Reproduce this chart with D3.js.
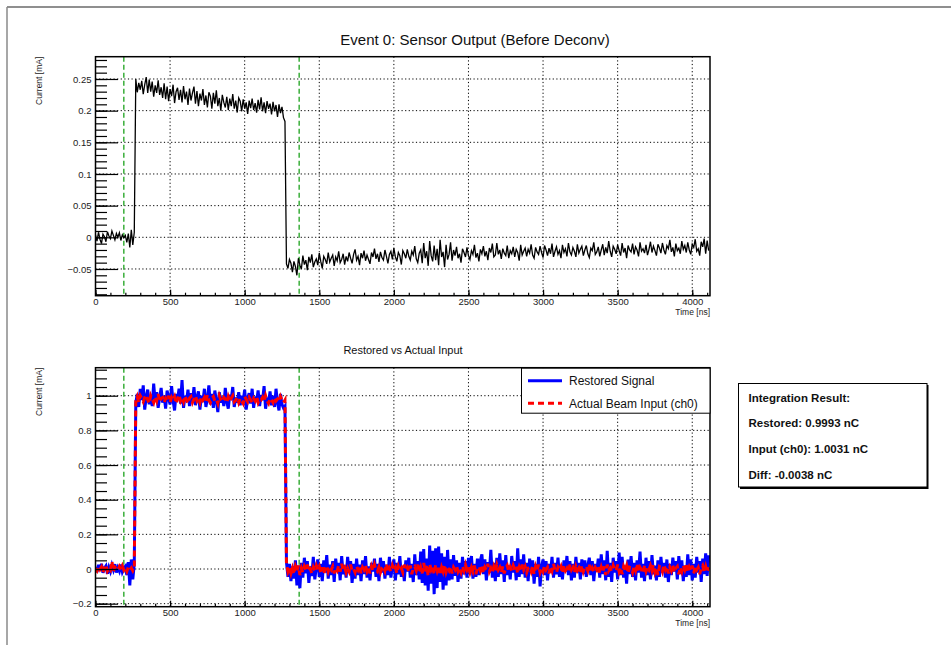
<!DOCTYPE html>
<html>
<head>
<meta charset="utf-8">
<script src="https://cdn.jsdelivr.net/npm/d3@7"></script>
<style>
  html, body { margin: 0; padding: 0; background: #fff; }
  svg { display: block; font-family: "Liberation Sans", Arial, Helvetica, sans-serif; }
</style>
</head>
<body>
<svg id="canvas" width="951" height="645"></svg>
<script>
// ---- Waveform data: one sample every 10 ns, currents stored in µA ----
const SAMPLE_NS = 10;

// Raw sensor output (before deconvolution)
const sensorOutputUA = [
  4, -6, 8, -3, -10, 5, 1, -7, 9, 2,
  -2, 10, 3, -4, 6, 0, 7, -5, 4, -1,
  3, -8, 6, -16, 12, -12,
  8,
  250, 229, 244, 233, 247, 226, 241, 253, 228, 249,
  230, 246, 222, 240, 228, 248, 225, 237, 220, 243,
  218, 238, 215, 234, 223, 241, 212, 230, 236, 217,
  233, 213, 239, 218, 230, 209, 235, 216, 228, 238,
  211, 231, 207, 227, 216, 234, 209, 224, 205, 229,
  223, 203, 228, 211, 232, 207, 220, 200, 225, 213,
  205, 222, 201, 219, 207, 226, 203, 216, 197, 220,
  215, 199, 218, 203, 213, 195, 216, 204, 219, 201,
  212, 197, 217, 202, 221, 199, 213, 196, 215, 203,
  211, 194, 214, 199, 209, 190, 210, 196, 206, 189,
  183,
  -42,
  -49, -35, -41, -55, -38, -46, -60, -33, -44, -50,
  -29, -43, -36, -52, -31, -40, -27, -47, -39, -34,
  -44, -25, -38, -49, -30, -35, -42, -24, -39, -33,
  -28, -45, -31, -37, -22, -40, -35, -26, -43, -30,
  -38, -24, -33, -41, -27, -19, -36, -30, -44, -25,
  -33, -21, -37, -28, -35, -42, -24, -31, -18, -34,
  -26, -39, -23, -32, -36, -20, -30, -41, -27, -22,
  -35, -17, -31, -38, -24, -29, -43, -21, -26, -33,
  -19, -30, -36, -22, -28, -14, -34, -40, -25, -20,
  -41, -9, -33, -22, -45, -6, -29, -38, -13, -36,
  -18, -44, -4, -31, -23, -47, -12, -35, -27, -8,
  -37, -20, -29, -15, -33, -26, -40, -18, -24, -31,
  -16, -29, -35, -21, -27, -12, -32, -25, -38, -19,
  -26, -14, -30, -22, -36, -17, -24, -10, -31, -28,
  -9, -27, -20, -34, -18, -25, -29, -13, -33, -21,
  -26, -15, -31, -19, -24, -37, -12, -28, -22, -17,
  -30, -19, -25, -11, -28, -33, -16, -23, -27, -14,
  -24, -32, -13, -20, -29, -17, -26, -10, -31, -22,
  -15, -27, -21, -33, -12, -24, -18, -30, -9, -23,
  -28, -16, -22, -31, -11, -25, -19, -14, -29, -20,
  -13, -26, -32, -17, -21, -8, -27, -23, -15, -30,
  -20, -11, -28, -16, -25, -6, -22, -31, -14, -19,
  -26, -12, -21, -29, -9, -24, -17, -33, -13, -20,
  -23, -10, -27, -15, -20, -30, -8, -22, -18, -25,
  -12, -28, -19, -7, -24, -14, -21, -29, -11, -17,
  -25, -9, -20, -27, -13, -18, -4, -23, -16, -30,
  -10, -21, -17, -26, -6, -19, -13, -24, -8, -20,
  -27, -11, -16, -3, -22, -18, -29, -7, -15, -2,
  -26, -5, -21
];

// Deconvolved (restored) signal
const restoredUA = [
  12, -18, 25, -8, 30, -22, 5, 18, -27, 10,
  -14, 22, -5, 28, -20, 8, -12, 26, -17, 4,
  15, -35, 40, -95, 55, -60,
  30,
  960, 1010, 935, 1040, 975, 1060, 920, 995, 1035, 950,
  1005, 940, 1070, 965, 1020, 930, 990, 1045, 960, 1000,
  925, 1030, 985, 950, 1055, 970, 915, 1010, 980, 1040,
  955, 1090, 930, 1000, 970, 1035, 940, 1015, 960, 1050,
  945, 990, 1025, 920, 1000, 965, 1040, 935, 985, 1060,
  950, 1010, 930, 1030, 970, 905, 1020, 960, 995, 940,
  1045, 965, 925, 1005, 980, 1050, 935, 990, 960, 1020,
  945, 1000, 970, 1035, 920, 985, 1015, 955, 1040, 930,
  995, 965, 1030, 940, 1005, 975, 1055, 925, 990, 960,
  1025, 945, 1000, 935, 1040, 960, 915, 1010, 950, 930,
  940,
  40,
  -45, 30, -70, 15, -55, 50, -95, 20, -110, 35,
  -50, 65, -25, 45, -80, 15, -40, 70, -60, 10,
  55, -45, 30, -70, 50, -20, 80, -55, 25, -35,
  45, -75, 60, -15, 35, -65, 75, -30, 20, -50,
  70, -20, 45, -80, 30, -55, 60, -35, 25, -70,
  50, -30, 75, -50, 15, -65, 35, -15, 60, -45,
  30, -70, 65, -20, 45, -55, 25, -35, 70, -50,
  15, 55, -65, 35, -30, 75, -45, 20, -70, 50,
  -15, 65, -50, 30, -75, 85, -35, 45, -60, 100,
  -80, 115, -95, 60, -125, 135, -85, 105, -145, 120,
  -110, 130, -75, 90, -120, 70, -95, 110, -65, 55,
  -60, 80, -40, 50, -75, 35, -55, 70, -30, 45,
  -50, 65, -20, 75, -55, 30, -45, 60, -35, 50,
  85, -30, 55, -65, 40, -20, 110, -50, 35, -70,
  65, -45, 90, -30, 50, -75, 80, -35, 20, -60,
  75, -20, 45, -65, 120, -45, 55, -30, 85, -50,
  35, -70, 60, -20, 50, -85, 30, -45, 70, -100,
  15, 55, -35, 45, -65, 30, -20, 70, -50, 35,
  -30, 65, -45, 20, -60, 50, -15, 75, -35, 45,
  -65, 30, -50, 70, -20, 35, -60, 55, -30, 50,
  -45, 20, 65, -35, 45, -70, 30, -15, 60, -50,
  85, -30, 50, -65, 105, -45, 35, -75, 65, -20,
  45, -60, 95, -35, 70, -50, 20, -85, 55, -30,
  75, -45, 35, -65, 50, -20, 100, -50, 30, -70,
  65, -35, 45, -60, 80, -30, 20, -65, 50, -45,
  70, -20, 35, -50, 55, -75, 30, -35, 65, -15,
  45, -60, 75, -30, 50, -70, 20, -45, 85, -35,
  55, -65, 30, -50, 70, -20, 45, -75, 60, -30,
  90, -40, 80
];

// Actual beam input, channel 0
const beamInputUA = [
  5, -10, 15, -3, 12, -20, 8, 25, -12, 3,
  -7, 45, -15, 10, 2, -8, 14, -4, 18, -6,
  9, -14, 11, -5, 7, -10,
  10,
  970, 995, 960, 1000, 985, 965, 990, 1005, 975, 955,
  1000, 980, 960, 995, 970, 1010, 965, 985, 990, 960,
  985, 970, 1000, 960, 990, 975, 995, 955, 980, 1005,
  970, 990, 965, 1000, 975, 955, 985, 995, 960, 980,
  1000, 970, 985, 960, 995, 975, 990, 965, 1005, 975,
  960, 985, 995, 970, 980, 955, 1000, 975, 965, 990,
  980, 960, 995, 970, 985, 1000, 965, 975, 990, 960,
  985, 970, 955, 995, 980, 965, 990, 975, 960, 985,
  970, 995, 960, 980, 975, 990, 965, 1000, 970, 955,
  985, 975, 960, 990, 970, 980, 965, 995, 975, 960,
  975,
  30,
  -15, 10, -25, 5, -30, 15, -10, 20, -35, 5,
  -20, 15, -5, 25, -15, 0, -25, 10, -10, 20,
  -5, 15, -20, 10, -30, 5, 20, -15, 10, -5,
  15, -25, 5, -10, 20, -15, 30, -5, 10, -20,
  5, -15, 25, -10, 0, -20, 15, -5, 20, -25,
  10, -5, 20, -15, 5, -25, 15, -10, 25, -5,
  -15, 10, -20, 5, 15, -10, 30, -20, 5, -15,
  20, -5, 10, -25, 15, -10, 5, -20, 25, -5,
  10, -15, 20, -30, 5, 15, -10, 25, -20, 10,
  -25, 35, -15, 20, -40, 30, -5, 15, -30, 25,
  -10, 20, -35, 10, -15, 25, -20, 5, -10, 15,
  -25, 10, -5, 20, -15, 5, -20, 15, -10, 25,
  -5, 15, -20, 10, -15, 20, -30, 5, 15, -10,
  20, -25, 10, -5, 30, -15, 5, -20, 15, -10,
  25, -5, 10, -20, 15, -25, 5, 20, -15, 10,
  -10, 20, -5, 15, -25, 10, -15, 25, -5, 15,
  -20, 5, 10, -15, 20, -30, 15, -10, 25, -20,
  5, -15, 20, -5, 10, -25, 15, -10, 30, -5,
  -20, 10, -5, 15, -25, 20, -10, 5, -15, 25,
  -5, 10, -20, 15, -10, 5, -25, 20, -15, 10,
  15, -10, 25, -20, 5, -15, 10, -5, 20, -25,
  10, -20, 15, -35, 25, -10, 5, -15, 20, -5,
  -10, 25, -15, 10, -30, 15, -5, 20, -25, 10,
  5, -20, 15, -10, 30, -15, 10, -5, -25, 20,
  -15, 10, -5, 20, -10, 25, -20, 5, -35, 15,
  10, -15, 25, -5, 15, -25, 10, -10, 20, -20,
  5, 15, -30, 10, -15, 20, -5, 25, -20, 10,
  -10, 20, -25, 15, -5, 10, -30, 5, 20, -15,
  15, -20, 10
];

// Integration window markers (ns)
const windowMarkersNs = [190, 1365];

// Axis ranges and ticks
const timeRangeNs = [0, 4119];
const timeTicks = [0, 500, 1000, 1500, 2000, 2500, 3000, 3500, 4000];
const timeMinorTicks = d3.range(0, 4101, 100);
const sensorRange = [-0.0922, 0.2852];
const sensorTicks = [-0.05, 0, 0.05, 0.1, 0.15, 0.2, 0.25];
const sensorTickLabels = ["\u22120.05", "0", "0.05", "0.1", "0.15", "0.2", "0.25"];
const sensorMinorTicks = d3.range(-9, 29).map(k => k / 100);
const restoredRange = [-0.2175, 1.1616];
const restoredTicks = [-0.2, 0, 0.2, 0.4, 0.6, 0.8, 1];
const restoredTickLabels = ["\u22120.2", "0", "0.2", "0.4", "0.6", "0.8", "1"];
const restoredMinorTicks = d3.range(-4, 24).map(k => k / 20);

// Texts
const topTitle = "Event 0: Sensor Output (Before Deconv)";
const bottomTitle = "Restored vs Actual Input";
const yAxisTitle = "Current [mA]";
const xAxisTitle = "Time [ns]";
const legendLabels = ["Restored Signal", "Actual Beam Input (ch0)"];
const resultLines = [
  "Integration Result:",
  "Restored: 0.9993 nC",
  "Input (ch0): 1.0031 nC",
  "Diff: -0.0038 nC"
];

// ---- Drawing ----
const svg = d3.select("#canvas");
svg.append("rect").attr("width", 951).attr("height", 645).attr("fill", "#fff");

// pad border (top and left edges)
svg.append("line").attr("x1", 7).attr("y1", 7).attr("x2", 951).attr("y2", 7)
  .attr("stroke", "#6a6a6a").attr("stroke-width", 1.5);
svg.append("line").attr("x1", 7).attr("y1", 7).attr("x2", 7).attr("y2", 645)
  .attr("stroke", "#8a8a8a").attr("stroke-width", 1.5);

const FRAME_X0 = 95.5, FRAME_X1 = 710;

function drawPanel(cfg) {
  const x = d3.scaleLinear().domain(timeRangeNs).range([FRAME_X0, FRAME_X1]);
  const y = d3.scaleLinear().domain(cfg.yRange).range([cfg.y1, cfg.y0]);
  const g = svg.append("g");

  const clipId = "clip-" + cfg.id;
  svg.append("clipPath").attr("id", clipId)
    .append("rect").attr("x", FRAME_X0).attr("y", cfg.y0)
    .attr("width", FRAME_X1 - FRAME_X0).attr("height", cfg.y1 - cfg.y0);

  // dotted grid
  const grid = g.append("g").attr("stroke", "#000").attr("stroke-width", 1)
    .attr("stroke-dasharray", "1.2,2.4").attr("fill", "none");
  timeTicks.filter(t => t > 0).forEach(t => {
    grid.append("line").attr("x1", x(t)).attr("x2", x(t)).attr("y1", cfg.y0).attr("y2", cfg.y1);
  });
  cfg.yTicks.forEach(v => {
    grid.append("line").attr("x1", FRAME_X0).attr("x2", FRAME_X1).attr("y1", y(v)).attr("y2", y(v));
  });

  // integration window markers
  windowMarkersNs.forEach(t => {
    g.append("line").attr("x1", x(t)).attr("x2", x(t)).attr("y1", cfg.y0).attr("y2", cfg.y1)
      .attr("stroke", "#0a9a0a").attr("stroke-width", 1.2).attr("stroke-dasharray", "5,3");
  });

  // data
  const plot = g.append("g").attr("clip-path", `url(#${clipId})`);
  cfg.series.forEach(s => {
    const line = d3.line().x((d, i) => x(i * SAMPLE_NS)).y(d => y(d / 1000));
    plot.append("path").datum(s.values).attr("d", line)
      .attr("fill", "none").attr("stroke", s.color).attr("stroke-width", s.width)
      .attr("stroke-linejoin", "miter").attr("stroke-dasharray", s.dash || null);
  });

  // axes
  const fontSize = "9.5px";
  const yMinor = d3.axisLeft(y).tickValues(cfg.yMinor).tickSizeInner(-11.5).tickSizeOuter(0).tickFormat("");
  const yMajor = d3.axisLeft(y).tickValues(cfg.yTicks).tickSizeInner(-22.5).tickSizeOuter(0).tickPadding(4)
    .tickFormat((d, i) => cfg.yTickLabels[i]);
  const xMinor = d3.axisBottom(x).tickValues(timeMinorTicks).tickSizeInner(-3).tickSizeOuter(0).tickFormat("");
  const xMajor = d3.axisBottom(x).tickValues(timeTicks).tickSizeInner(-6).tickSizeOuter(0).tickPadding(3)
    .tickFormat(d3.format("d"));

  [[yMinor, `translate(${FRAME_X0},0)`], [yMajor, `translate(${FRAME_X0},0)`],
   [xMinor, `translate(0,${cfg.y1})`], [xMajor, `translate(0,${cfg.y1})`]].forEach(([ax, tr]) => {
    const a = g.append("g").attr("transform", tr).call(ax);
    a.select(".domain").remove();
    a.selectAll("line").attr("stroke", "#000").attr("stroke-width", 1.2);
    a.selectAll("text").attr("font-size", fontSize).attr("fill", "#222")
      .attr("font-family", "'Liberation Sans', Arial, sans-serif");
  });

  // frame
  g.append("rect").attr("x", FRAME_X0).attr("y", cfg.y0)
    .attr("width", FRAME_X1 - FRAME_X0).attr("height", cfg.y1 - cfg.y0)
    .attr("fill", "none").attr("stroke", "#000").attr("stroke-width", 1.5);

  // axis titles
  g.append("text").attr("transform", `translate(42,${cfg.y0}) rotate(-90)`)
    .attr("text-anchor", "end").attr("font-size", "8.5px").attr("fill", "#222").text(yAxisTitle);
  g.append("text").attr("x", FRAME_X1).attr("y", cfg.y1 + 19.5)
    .attr("text-anchor", "end").attr("font-size", "8.5px").attr("fill", "#222").text(xAxisTitle);

  // title
  g.append("text").attr("x", cfg.titleX).attr("y", cfg.titleY).attr("text-anchor", "middle")
    .attr("font-size", cfg.titleSize).attr("fill", "#111").text(cfg.title);

  return { x, y, g };
}

drawPanel({
  id: "sensor", y0: 56.7, y1: 295.7, yRange: sensorRange,
  yTicks: sensorTicks, yTickLabels: sensorTickLabels, yMinor: sensorMinorTicks,
  series: [{ values: sensorOutputUA, color: "#000", width: 1.3 }],
  title: topTitle, titleX: 475, titleY: 45, titleSize: "15px"
});

drawPanel({
  id: "restored", y0: 367.7, y1: 606.7, yRange: restoredRange,
  yTicks: restoredTicks, yTickLabels: restoredTickLabels, yMinor: restoredMinorTicks,
  series: [
    { values: restoredUA, color: "#0000ff", width: 3 },
    { values: beamInputUA, color: "#ff0000", width: 3, dash: "6,4" }
  ],
  title: bottomTitle, titleX: 403, titleY: 354, titleSize: "11px"
});

// legend
const leg = svg.append("g");
leg.append("rect").attr("x", 521.5).attr("y", 368.2).attr("width", 188.5).attr("height", 45)
  .attr("fill", "#fff").attr("stroke", "#000").attr("stroke-width", 1);
const legendStyles = [
  { color: "#0000ff", dash: null },
  { color: "#ff0000", dash: "6,4" }
];
legendLabels.forEach((label, i) => {
  const cy = 380.7 + i * 22.6;
  leg.append("line").attr("x1", 528).attr("x2", 562).attr("y1", cy).attr("y2", cy)
    .attr("stroke", legendStyles[i].color).attr("stroke-width", 3)
    .attr("stroke-dasharray", legendStyles[i].dash);
  leg.append("text").attr("x", 569).attr("y", cy + 4.3).attr("font-size", "12px")
    .attr("fill", "#111").text(label);
});

// integration result box
const box = svg.append("g");
box.append("rect").attr("x", 740).attr("y", 385).attr("width", 188.5).attr("height", 104)
  .attr("fill", "#000");
box.append("rect").attr("x", 738.5).attr("y", 383.5).attr("width", 188.5).attr("height", 103.5)
  .attr("fill", "#fff").attr("stroke", "#000").attr("stroke-width", 1);
resultLines.forEach((line, i) => {
  box.append("text").attr("x", 748.5).attr("y", 401.6 + i * 25.8)
    .attr("font-size", "11.5px").attr("font-weight", "bold").attr("fill", "#111").text(line);
});
</script>
</body>
</html>
